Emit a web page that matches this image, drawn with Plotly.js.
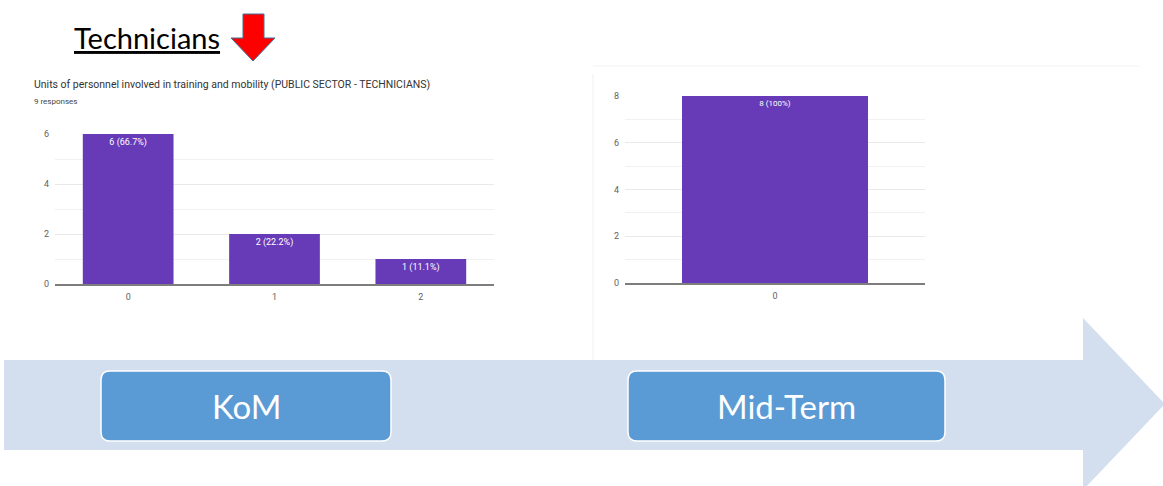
<!DOCTYPE html>
<html>
<head>
<meta charset="utf-8">
<script src="https://cdn.plot.ly/plotly-3.0.1.min.js"></script>
<style>
  html, body { margin: 0; padding: 0; background: #fff; }
  #chart { width: 1163px; height: 486px; }
</style>
</head>
<body>
<div id="chart"></div>
<script>
// data
const komCategories = ['0', '1', '2'];
const komCounts = [6, 2, 1];
const komPercents = ['66.7%', '22.2%', '11.1%'];
const midCategories = ['0'];
const midCounts = [8];
const midPercents = ['100%'];
const phaseLabels = ['KoM', 'Mid-Term'];

const W = 1163, H = 486;
// pixel -> paper helpers (y measured from the top of the slide)
const px = function (x) { return x / W; };
const py = function (y) { return 1 - y / H; };

const purple = '#673AB7';
const tickFont = { family: 'Roboto, Arial, sans-serif', size: 9, color: '#5f5f5f' };

function barText(counts, pcts) {
    return counts.map(function (c, i) { return c + ' (' + pcts[i] + ')'; });
}

const traceKom = {
    x: komCategories,
    y: komCounts,
    type: 'bar',
    width: 0.62,
    marker: { color: purple },
    text: barText(komCounts, komPercents),
    textposition: 'inside',
    insidetextanchor: 'end',
    textangle: 0,
    constraintext: 'none',
    textfont: { family: 'Roboto, Arial, sans-serif', size: 9, color: '#fff' },
    xaxis: 'x',
    yaxis: 'y',
    hoverinfo: 'skip'
};

const traceMid = {
    x: midCategories,
    y: midCounts,
    type: 'bar',
    width: 0.62,
    marker: { color: purple },
    text: barText(midCounts, midPercents),
    textposition: 'inside',
    insidetextanchor: 'end',
    textangle: 0,
    constraintext: 'none',
    textfont: { family: 'Roboto, Arial, sans-serif', size: 8, color: '#fff' },
    xaxis: 'x2',
    yaxis: 'y2',
    hoverinfo: 'skip'
};

function xAxis(domain) {
    return {
        domain: domain,
        type: 'category',
        showgrid: false,
        showline: true,
        linecolor: '#7d7d7d',
        linewidth: 2,
        ticks: '',
        tickfont: tickFont,
        ticklabelstandoff: 3,
        fixedrange: true
    };
}

function yAxis(domain, top, anchor) {
    return {
        domain: domain,
        anchor: anchor,
        range: [0, top],
        dtick: 2,
        showgrid: true,
        gridcolor: '#e9e9e9',
        gridwidth: 1,
        minor: { dtick: 1, showgrid: true, gridcolor: '#f1f1f1', gridwidth: 1 },
        zeroline: false,
        showline: false,
        ticks: '',
        tickfont: tickFont,
        ticklabelstandoff: 5,
        fixedrange: true
    };
}

function roundBox(x0, y0, x1, y1, r) {
    return 'M ' + px(x0 + r) + ',' + py(y0) +
        ' L ' + px(x1 - r) + ',' + py(y0) +
        ' Q ' + px(x1) + ',' + py(y0) + ' ' + px(x1) + ',' + py(y0 + r) +
        ' L ' + px(x1) + ',' + py(y1 - r) +
        ' Q ' + px(x1) + ',' + py(y1) + ' ' + px(x1 - r) + ',' + py(y1) +
        ' L ' + px(x0 + r) + ',' + py(y1) +
        ' Q ' + px(x0) + ',' + py(y1) + ' ' + px(x0) + ',' + py(y1 - r) +
        ' L ' + px(x0) + ',' + py(y0 + r) +
        ' Q ' + px(x0) + ',' + py(y0) + ' ' + px(x0 + r) + ',' + py(y0) + ' Z';
}

function poly(points) {
    return points.map(function (p, i) {
        return (i === 0 ? 'M ' : 'L ') + px(p[0]) + ',' + py(p[1]);
    }).join(' ') + ' Z';
}

const shapes = [
    // faint frame of the second screenshot
    { type: 'line', xref: 'paper', yref: 'paper', x0: px(593), x1: px(593), y0: py(74), y1: py(360),
      line: { color: '#f0f0f0', width: 1 }, layer: 'below' },
    { type: 'line', xref: 'paper', yref: 'paper', x0: px(593), x1: px(1140), y0: py(66), y1: py(66),
      line: { color: '#f3f3f3', width: 1 }, layer: 'below' },
    // big timeline arrow
    { type: 'path', xref: 'paper', yref: 'paper', layer: 'above',
      path: poly([[4, 360], [1083, 360], [1083, 318], [1165, 404], [1083, 490], [1083, 450], [4, 450]]),
      fillcolor: '#D3DEEF', line: { width: 0 } },
    // phase boxes
    { type: 'path', xref: 'paper', yref: 'paper', layer: 'above',
      path: roundBox(101, 371, 391, 441, 9),
      fillcolor: '#5B9BD5', line: { color: '#ffffff', width: 1.5 } },
    { type: 'path', xref: 'paper', yref: 'paper', layer: 'above',
      path: roundBox(628, 371, 945, 441, 9),
      fillcolor: '#5B9BD5', line: { color: '#ffffff', width: 1.5 } },
    // red down arrow next to the heading
    { type: 'path', xref: 'paper', yref: 'paper', layer: 'above',
      path: poly([[243, 14], [264, 14], [264, 38], [275, 38], [253, 61], [231, 38], [243, 38]]),
      fillcolor: '#FF0000', line: { color: '#41719C', width: 1 } }
];

const annotations = [
    { text: '<u>Technicians</u>', xref: 'paper', yref: 'paper', x: px(72), y: py(37),
      xanchor: 'left', yanchor: 'middle', showarrow: false,
      font: { family: 'Lato, "Open Sans", sans-serif', size: 29, color: '#000' } },
    { text: 'Units of personnel involved in training and mobility (PUBLIC SECTOR - TECHNICIANS)',
      xref: 'paper', yref: 'paper', x: px(32), y: py(84), xanchor: 'left', yanchor: 'middle',
      showarrow: false, font: { family: 'Roboto, Arial, sans-serif', size: 10.5, color: '#333' } },
    { text: '9 responses', xref: 'paper', yref: 'paper', x: px(32), y: py(101),
      xanchor: 'left', yanchor: 'middle', showarrow: false,
      font: { family: 'Roboto, Arial, sans-serif', size: 8, color: '#444' } },
    { text: phaseLabels[0], xref: 'paper', yref: 'paper', x: px(246), y: py(406),
      xanchor: 'center', yanchor: 'middle', showarrow: false,
      font: { family: 'Lato, "Open Sans", sans-serif', size: 33, color: '#fff' } },
    { text: phaseLabels[1], xref: 'paper', yref: 'paper', x: px(786), y: py(406),
      xanchor: 'center', yanchor: 'middle', showarrow: false,
      font: { family: 'Lato, "Open Sans", sans-serif', size: 33, color: '#fff' } }
];

const layout = {
    width: W,
    height: H,
    margin: { l: 0, r: 0, t: 0, b: 0 },
    paper_bgcolor: '#fff',
    plot_bgcolor: 'rgba(0,0,0,0)',
    showlegend: false,
    bargap: 0.38,
    xaxis: xAxis([px(55), px(494)]),
    yaxis: yAxis([py(284), py(134)], 6, 'x'),
    xaxis2: Object.assign(xAxis([px(625), px(925)]), { anchor: 'y2' }),
    yaxis2: yAxis([py(283), py(96)], 8, 'x2'),
    shapes: shapes,
    annotations: annotations
};

Plotly.newPlot('chart', [traceKom, traceMid], layout, { staticPlot: true, displayModeBar: false });
</script>
</body>
</html>
